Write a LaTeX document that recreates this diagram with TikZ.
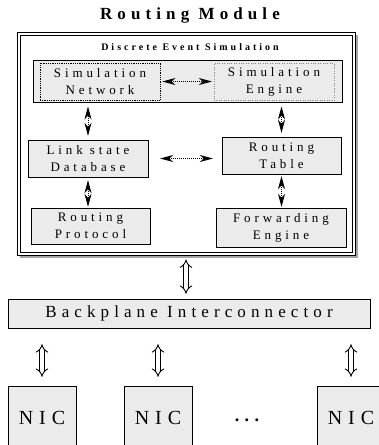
\documentclass[tikz,border=0pt]{standalone}
\usepackage{fontspec}
\setmainfont{Liberation Serif}
\newfontfamily\spacedfont[LetterSpace=30]{Liberation Serif}
\usetikzlibrary{arrows.meta}
\definecolor{boxgray}{gray}{0.92}

\begin{document}
\begin{tikzpicture}
[x=1pt,y=-1pt,
  boxDecorate/.style={shape=rectangle,draw,fill=boxgray,inner sep=0pt,align=center,%
    font=\spacedfont\fontsize{13}{17}\selectfont},%
  dartDecorate/.style={{Stealth[length=13pt,width=7pt,inset=4pt]}-{Stealth[length=13pt,width=7pt,inset=4pt]},%
    line width=0.8pt,dash pattern=on 1pt off 1pt},%
  hollowDecorate/.style={{Implies}-{Implies},double,double distance=3.5pt,line width=0.9pt},%
  nicDecorate/.style={shape=rectangle,draw,fill=boxgray,inner sep=0pt,%
    minimum width=68pt,minimum height=64pt,font=\spacedfont\fontsize{20}{22}\selectfont}]
\useasboundingbox (0,0) rectangle (379,445);
\clip (0,0) rectangle (379,445);
%% routing module frame
\node (title) at (190,15) [font=\spacedfont\bfseries\fontsize{17}{19}\selectfont] {Routing Module};
\draw[gray!70,line width=1.2pt] (357,35) -- (357,257) -- (20,257);
\node (module) at (186,143.5) [draw,line width=0.9pt,minimum width=338pt,minimum height=223pt] {};
\draw[line width=0.6pt] ([shift={(4,3.5)}]module.north west) rectangle ([shift={(-3.5,-3.5)}]module.south east);
\node (des) at (190,47) [font=\spacedfont\bfseries\fontsize{10}{12}\selectfont] {Discrete Event Simulation};
\node (simGroup) at (187.5,81) [draw,line width=1pt,fill=boxgray,minimum width=309pt,minimum height=42pt] {};
\node (simNet) at (100,81.5) [boxDecorate,densely dotted,thick,minimum width=120pt,minimum height=37pt] {Simulation\\Network};
\node (simEng) at (274,81.5) [boxDecorate,dotted,draw=gray,minimum width=120pt,minimum height=37pt] {Simulation\\Engine};
%% boxes inside the module
\foreach \nodename/\x/\y/\w/\h/\txt in {linkDb/88/158.5/120/37/{Link state\\Database},
  routTab/281.5/155.5/119/37/{Routing\\Table},
  routProt/90.5/226/119/36/{Routing\\Protocol},
  fwdEng/281/227.5/130/39/{Forwarding\\Engine}}
{
  \node (\nodename) at (\x,\y) [boxDecorate,minimum width=\w pt,minimum height=\h pt] {\txt};
}
%% backplane and nics
\node (backplane) at (189,313.5) [boxDecorate,minimum width=362pt,minimum height=29pt,%
  font=\spacedfont\fontsize{17}{19}\selectfont] {Backplane Interconnector};
\foreach \nodename/\x in {nicA/42, nicB/158, nicC/351}
{
  \node (\nodename) at (\x,418) [nicDecorate] {NIC};
}
\node (dots) at (247,420) [font=\spacedfont\bfseries\fontsize{18}{20}\selectfont] {...};
%% arrows
\draw[dartDecorate,shorten <=2pt,shorten >=2pt] (simNet) -- (simEng);
\draw[dartDecorate,shorten <=12pt,shorten >=9pt] (linkDb.east) -- (linkDb.east -| routTab.west);
\foreach \nodename in {linkDb, routTab}
{
  \draw[dartDecorate,shorten <=4pt,shorten >=4pt] (\nodename.north) -- (\nodename.north |- simGroup.south);
}
\draw[dartDecorate,shorten <=3pt,shorten >=1pt] (linkDb.south) -- (linkDb.south |- routProt.north);
\draw[dartDecorate,shorten <=2pt,shorten >=1pt] (routTab.south) -- (routTab.south |- fwdEng.north);
\draw[hollowDecorate,shorten <=4pt,shorten >=5pt] (module.south) -- (module.south |- backplane.north);
\foreach \nodename in {nicA, nicB, nicC}
{
  \draw[hollowDecorate,shorten <=9pt,shorten >=16pt] (\nodename.north) -- (\nodename.north |- backplane.south);
}
\end{tikzpicture}
\end{document}
